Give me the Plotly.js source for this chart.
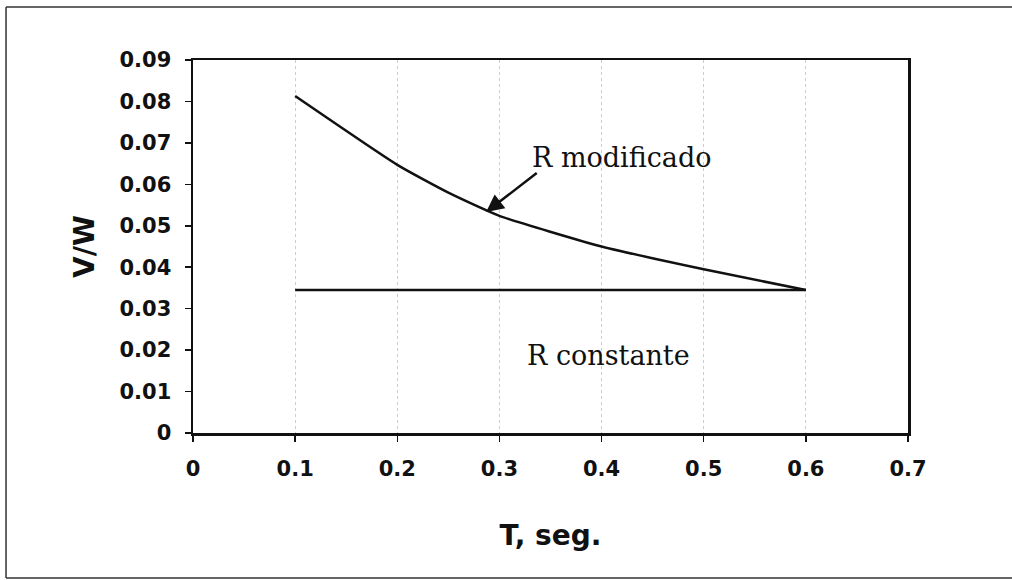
<!DOCTYPE html>
<html>
<head>
<meta charset="utf-8">
<script src="https://cdn.plot.ly/plotly-3.0.1.min.js"></script>
<style>html,body{margin:0;padding:0;background:#fff;}#chart{width:1012px;height:580px;}</style>
</head>
<body>
<div id="chart"></div>
<script>
// Data
const tModificado = [0.1, 0.2, 0.25, 0.3, 0.4, 0.5, 0.6];
const vwModificado = [0.0813, 0.0647, 0.0580, 0.0524, 0.0450, 0.0395, 0.0345];
const tConstante = [0.1, 0.6];
const vwConstante = [0.0345, 0.0345];
const xTicks = [0, 0.1, 0.2, 0.3, 0.4, 0.5, 0.6, 0.7];
const xTickText = ['0', '0.1', '0.2', '0.3', '0.4', '0.5', '0.6', '0.7'];
const yTicks = [0, 0.01, 0.02, 0.03, 0.04, 0.05, 0.06, 0.07, 0.08, 0.09];
const yTickText = ['0', '0.01', '0.02', '0.03', '0.04', '0.05', '0.06', '0.07', '0.08', '0.09'];
const labelModificado = 'R modificado';
const labelConstante = 'R constante';

const sans = 'DejaVu Sans, Arial, sans-serif';
const serif = 'DejaVu Serif, Times New Roman, serif';

const traces = [
  {x: tModificado, y: vwModificado, type: 'scatter', mode: 'lines', line: {color: '#111', width: 2.5, shape: 'spline', smoothing: 0.5}, hoverinfo: 'skip'},
  {x: tConstante, y: vwConstante, type: 'scatter', mode: 'lines', line: {color: '#111', width: 2.5}, hoverinfo: 'skip'}
];

const frameLine = {color: '#333', width: 1.5};

const layout = {
  width: 1012, height: 580,
  margin: {l: 193, r: 104, t: 60, b: 147},
  paper_bgcolor: '#fff', plot_bgcolor: '#fff',
  showlegend: false,
  xaxis: {
    range: [0, 0.7], tickvals: xTicks, ticktext: xTickText,
    showline: true, linecolor: '#111', linewidth: 2.5, mirror: true,
    ticks: 'outside', ticklen: 6, tickwidth: 1.5, tickcolor: '#111',
    showgrid: true, gridcolor: '#ccc', gridwidth: 1, griddash: 'dot',
    zeroline: false, ticklabelstandoff: 9,
    tickfont: {family: sans, size: 21, color: '#111', weight: 'bold'},
    title: {text: 'T, seg.', font: {family: sans, size: 28, color: '#111', weight: 'bold'}, standoff: 46}
  },
  yaxis: {
    range: [0, 0.09], tickvals: yTicks, ticktext: yTickText,
    showline: true, linecolor: '#111', linewidth: 2.5, mirror: true,
    ticks: 'outside', ticklen: 6, tickwidth: 1.5, tickcolor: '#111',
    showgrid: false, zeroline: false, ticklabelstandoff: 9,
    tickfont: {family: sans, size: 21, color: '#111', weight: 'bold'},
    title: {text: 'V/W', font: {family: sans, size: 28, color: '#111', weight: 'bold'}, standoff: 17}
  },
  annotations: [
    {x: 0.287, y: 0.0533, ax: 0.338, ay: 0.063, xref: 'x', yref: 'y', axref: 'x', ayref: 'y',
     text: '', showarrow: true, arrowhead: 2, arrowsize: 1.4, arrowwidth: 2.5, arrowcolor: '#111'},
    {x: 0.33, y: 0.0664, xref: 'x', yref: 'y', xanchor: 'left', yanchor: 'middle', text: labelModificado,
     showarrow: false, font: {family: serif, size: 27, color: '#111'}},
    {x: 0.325, y: 0.0186, xref: 'x', yref: 'y', xanchor: 'left', yanchor: 'middle', text: labelConstante,
     showarrow: false, font: {family: serif, size: 27, color: '#111'}}
  ],
  shapes: [
    {type: 'line', xref: 'paper', yref: 'paper', x0: -0.2615, x1: -0.2615, y0: -0.389, y1: 1.142, line: frameLine, layer: 'below'},
    {type: 'line', xref: 'paper', yref: 'paper', x0: -0.2615, x1: 1.3, y0: 1.142, y1: 1.142, line: frameLine, layer: 'below'},
    {type: 'line', xref: 'paper', yref: 'paper', x0: -0.2615, x1: 1.3, y0: -0.389, y1: -0.389, line: frameLine, layer: 'below'}
  ]
};

Plotly.newPlot('chart', traces, layout, {staticPlot: true, displayModeBar: false});
</script>
</body>
</html>
